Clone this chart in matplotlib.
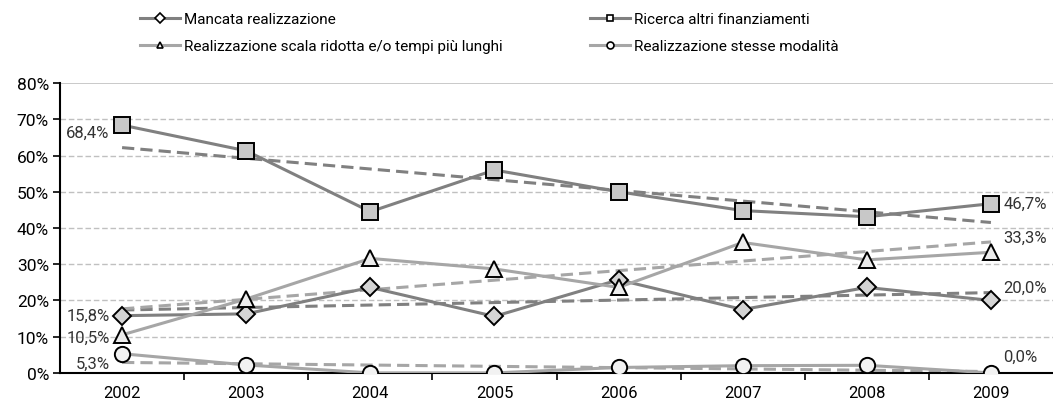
import matplotlib
matplotlib.use("Agg")
import matplotlib.pyplot as plt
import numpy as np

plt.rcParams['font.family'] = ['Roboto', 'DejaVu Sans']

# data (percent)
years = ['2002', '2003', '2004', '2005', '2006', '2007', '2008', '2009']
mancata = [15.8, 16.3, 23.6, 15.6, 25.7, 17.5, 23.6, 20.0]
ricerca = [68.4, 61.3, 44.5, 56.0, 50.0, 44.8, 43.1, 46.7]
scala_ridotta = [10.5, 20.4, 31.6, 28.7, 23.6, 36.0, 31.2, 33.3]
stesse_modalita = [5.3, 2.2, 0.0, 0.0, 1.5, 2.0, 2.1, 0.0]

labels = ['Mancata realizzazione', 'Ricerca altri finanziamenti',
          'Realizzazione scala ridotta e/o tempi più lunghi', 'Realizzazione stesse modalità']

x = np.arange(len(years))

fig = plt.figure(figsize=(10.53, 4.10), dpi=100)
ax = fig.add_axes([0.057, 0.088, 0.943, 0.707])

dark = '#808080'
light = '#a6a6a6'

series = [
    (mancata, dark, 'D', '#d4d4d4', 9, labels[0]),
    (scala_ridotta, light, '^', '#ececec', 11, labels[2]),
    (stesse_modalita, light, 'o', '#f2f2f2', 11, labels[3]),
    (ricerca, dark, 's', '#c8c8c8', 11, labels[1]),
]

handles = {}
for vals, col, mk, fc, ms, lab in series:
    vals = np.array(vals)
    # linear trend line
    coef = np.polyfit(x, vals, 1)
    ax.plot(x, np.polyval(coef, x), color=col, lw=2.2, ls=(0, (4, 2)), zorder=2)
    ax.plot(x, vals, color=col, lw=2.2, zorder=3)
    ax.plot(x, vals, ls='none', marker=mk, ms=ms, mfc=fc, mec='black', mew=1.4, zorder=4)
    h, = ax.plot([], [], color=col, lw=2.2, marker=mk, ms=5, mfc='white', mec='black', mew=1.2)
    handles[lab] = h

# two legend columns placed separately
leg_kw = dict(loc='upper left', frameon=False, fontsize=11, handlelength=2.6,
              handletextpad=0.3, labelspacing=0.85, borderpad=0, borderaxespad=0,
              bbox_transform=fig.transFigure)
leg1 = ax.legend([handles[labels[0]], handles[labels[2]]], [labels[0], labels[2]],
                 bbox_to_anchor=(140 / 1053, 1 - 13 / 410), **leg_kw)
ax.add_artist(leg1)
ax.legend([handles[labels[1]], handles[labels[3]]], [labels[1], labels[3]],
          bbox_to_anchor=(590 / 1053, 1 - 13 / 410), **leg_kw)

# end labels
lab_kw = dict(fontsize=12, color='#333333')
ax.text(-0.1, ricerca[0] - 2, '68,4%', ha='right', va='center', **lab_kw)
ax.text(-0.1, mancata[0], '15,8%', ha='right', va='center', **lab_kw)
ax.text(-0.1, scala_ridotta[0] - 0.7, '10,5%', ha='right', va='center', **lab_kw)
ax.text(-0.1, stesse_modalita[0] - 2.7, '5,3%', ha='right', va='center', **lab_kw)
ax.text(7.1, ricerca[-1], '46,7%', ha='left', va='center', **lab_kw)
ax.text(7.1, scala_ridotta[-1] + 4, '33,3%', ha='left', va='center', **lab_kw)
ax.text(7.1, mancata[-1] + 3.7, '20,0%', ha='left', va='center', **lab_kw)
ax.text(7.1, stesse_modalita[-1] + 4.7, '0,0%', ha='left', va='center', **lab_kw)

ax.set_xlim(-0.5, 7.5)
ax.set_ylim(0, 80)
ax.set_yticks(np.arange(0, 81, 10))
ax.set_yticklabels([f'{v}%' for v in range(0, 81, 10)], fontsize=12.5)
ax.set_xticks(x)
ax.set_xticklabels(years, fontsize=12)
ax.set_xticks(np.arange(0.5, 7.5, 1), minor=True)
ax.tick_params(axis='x', which='major', length=0, pad=9)
ax.tick_params(axis='x', which='minor', length=5, width=1.2, direction='out')
ax.tick_params(axis='y', length=5, width=1.2, direction='out', pad=3)

for v in range(10, 80, 10):
    ax.axhline(v, color='#c0c0c0', lw=1, ls=(0, (4, 2)), zorder=1)
ax.axhline(80, color='#c0c0c0', lw=1.2, zorder=1)

for s in ['top', 'right']:
    ax.spines[s].set_visible(False)
ax.spines['left'].set_linewidth(1.5)
ax.spines['bottom'].set_linewidth(1.5)

fig.savefig('out.png', dpi=100)
